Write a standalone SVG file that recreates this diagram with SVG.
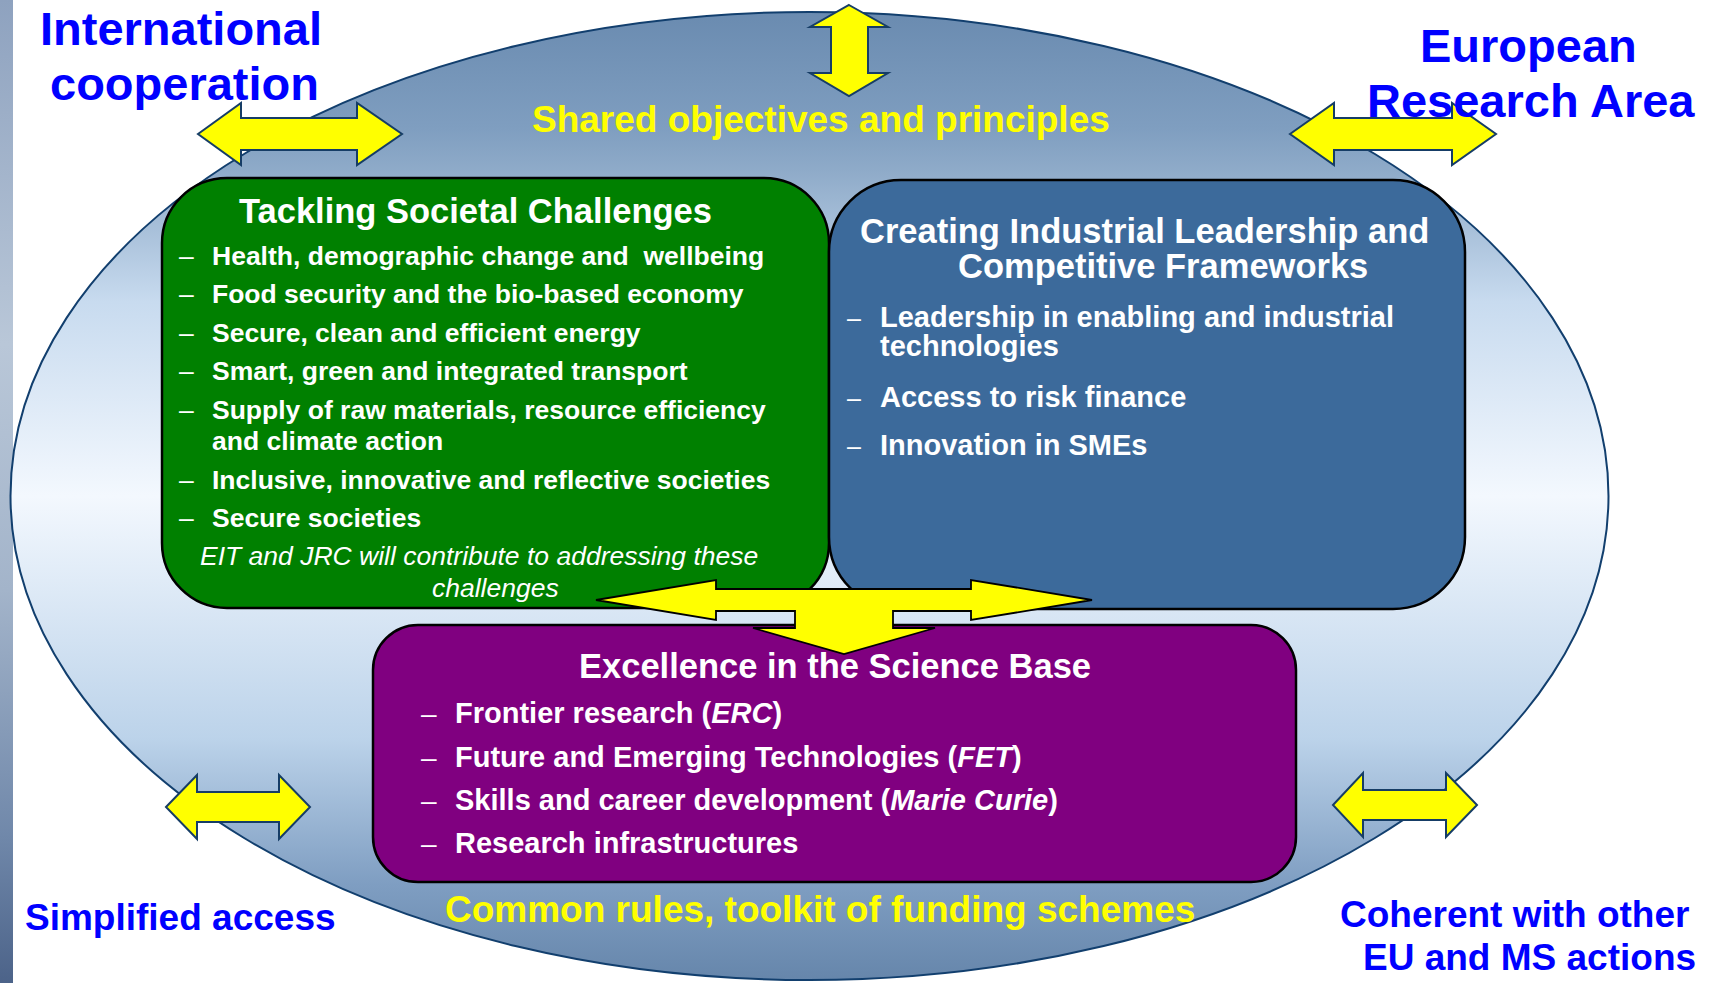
<svg xmlns="http://www.w3.org/2000/svg" width="1714" height="983" viewBox="0 0 1714 983">
<defs>
<linearGradient id="ellG" gradientUnits="userSpaceOnUse" x1="0" y1="12" x2="0" y2="980">
<stop offset="0" stop-color="#6a8bb0"/>
<stop offset="0.12" stop-color="#7f9ec0"/>
<stop offset="0.165" stop-color="#8fabc9"/>
<stop offset="0.30" stop-color="#c8dbef"/>
<stop offset="0.5" stop-color="#f3f8fe"/>
<stop offset="0.75" stop-color="#bcd3ea"/>
<stop offset="0.90" stop-color="#7f9ec2"/>
<stop offset="1" stop-color="#6686ab"/>
</linearGradient>
<linearGradient id="stripG" x1="0" y1="0" x2="0" y2="1">
<stop offset="0" stop-color="#8ea2bf"/>
<stop offset="0.35" stop-color="#b9c7d8"/>
<stop offset="0.6" stop-color="#a3b4ca"/>
<stop offset="0.85" stop-color="#7088aa"/>
<stop offset="1" stop-color="#4c6389"/>
</linearGradient>
</defs>
<style>
.lbl{font-family:"Liberation Sans",Arial,sans-serif;font-weight:bold;fill:#0000ff;font-size:47px}
.lbl2{font-family:"Liberation Sans",Arial,sans-serif;font-weight:bold;fill:#0000ff;font-size:37px}
.yel{font-family:"Liberation Sans",Arial,sans-serif;font-weight:bold;fill:#ffff00;font-size:37px}
.ttl{font-family:"Liberation Sans",Arial,sans-serif;font-weight:bold;fill:#ffffff;font-size:34.5px}
.itm{font-family:"Liberation Sans",Arial,sans-serif;font-weight:bold;fill:#ffffff;font-size:26.5px}
.itm2{font-family:"Liberation Sans",Arial,sans-serif;font-weight:bold;fill:#ffffff;font-size:29px}
.ital{font-family:"Liberation Sans",Arial,sans-serif;font-style:italic;fill:#ffffff;font-size:26.5px}
.dash{font-family:"Liberation Sans",Arial,sans-serif;fill:#ffffff}
.box{stroke:#000000;stroke-width:2.5}
.arr{fill:#ffff00;stroke:#163d66;stroke-width:2;stroke-linejoin:miter}
.arrc{fill:#ffff00;stroke:#000000;stroke-width:1.8;stroke-linejoin:miter}
</style>
<rect x="0" y="0" width="1714" height="983" fill="#ffffff"/>
<rect x="0" y="0" width="13" height="983" fill="url(#stripG)"/>
<g id="frame">
<ellipse cx="809.5" cy="496" rx="799" ry="484" fill="url(#ellG)" stroke="#123f6e" stroke-width="2"/>
<text class="yel" x="532" y="132">Shared objectives and principles</text>
<text class="yel" x="445" y="922">Common rules, toolkit of funding schemes</text>
</g>
<g id="connectors">
<polygon class="arr" points="849,5 888,27 868,27 868,73 888,73 849,96 810,73 831,73 831,27 810,27"/>
<polygon class="arr" points="198,134 241,103 241,118 357,118 357,103 402,134 357,165 357,150 241,150 241,165"/>
<polygon class="arr" points="1290,134 1334,103 1334,118 1452,118 1452,103 1496,134 1452,165 1452,150 1334,150 1334,165"/>
<polygon class="arr" points="166,807 197,775 197,792 279,792 279,775 310,807 279,839 279,822 197,822 197,839"/>
<polygon class="arr" points="1333,805 1363,773 1363,790 1446,790 1446,773 1477,805 1446,837 1446,820 1363,820 1363,837"/>
</g>
<g id="societal">
<rect class="box" x="162" y="178" width="667" height="430" rx="65" ry="65" fill="#008000"/>
<text class="ttl" x="239" y="223">Tackling Societal Challenges</text>
<text class="dash" font-size="26.5" x="179" y="265">–</text>
<text class="itm" x="212" y="265" xml:space="preserve">Health, demographic change and  wellbeing</text>
<text class="dash" font-size="26.5" x="179" y="303">–</text>
<text class="itm" x="212" y="303">Food security and the bio-based economy</text>
<text class="dash" font-size="26.5" x="179" y="342">–</text>
<text class="itm" x="212" y="342">Secure, clean and efficient energy</text>
<text class="dash" font-size="26.5" x="179" y="380">–</text>
<text class="itm" x="212" y="380">Smart, green and integrated transport</text>
<text class="dash" font-size="26.5" x="179" y="419">–</text>
<text class="itm" x="212" y="419">Supply of raw materials, resource efficiency</text>
<text class="itm" x="212" y="450">and climate action</text>
<text class="dash" font-size="26.5" x="179" y="489">–</text>
<text class="itm" x="212" y="489">Inclusive, innovative and reflective societies</text>
<text class="dash" font-size="26.5" x="179" y="527">–</text>
<text class="itm" x="212" y="527">Secure societies</text>
<text class="ital" x="200" y="565">EIT and JRC will contribute to addressing these</text>
<text class="ital" x="432" y="597">challenges</text>
</g>
<g id="industrial">
<rect class="box" x="829" y="180" width="636" height="429" rx="72" ry="72" fill="#3c6a9b"/>
<text class="ttl" x="860" y="243">Creating Industrial Leadership and</text>
<text class="ttl" x="958" y="278">Competitive Frameworks</text>
<text class="dash" font-size="25" x="847" y="327">–</text>
<text class="itm2" x="880" y="327">Leadership in enabling and industrial</text>
<text class="itm2" x="880" y="356">technologies</text>
<text class="dash" font-size="25" x="847" y="407">–</text>
<text class="itm2" x="880" y="407">Access to risk finance</text>
<text class="dash" font-size="25" x="847" y="455">–</text>
<text class="itm2" x="880" y="455">Innovation in SMEs</text>
</g>
<g id="excellence">
<rect class="box" x="373" y="625" width="923" height="257" rx="45" ry="45" fill="#800080"/>
<text class="ttl" x="579" y="678">Excellence in the Science Base</text>
<text class="dash" font-size="28" x="421" y="723">–</text>
<text class="itm2" x="455" y="723">Frontier research (<tspan font-style="italic">ERC</tspan>)</text>
<text class="dash" font-size="28" x="421" y="767">–</text>
<text class="itm2" x="455" y="767">Future and Emerging Technologies (<tspan font-style="italic">FET</tspan>)</text>
<text class="dash" font-size="28" x="421" y="810">–</text>
<text class="itm2" x="455" y="810">Skills and career development (<tspan font-style="italic">Marie Curie</tspan>)</text>
<text class="dash" font-size="28" x="421" y="853">–</text>
<text class="itm2" x="455" y="853">Research infrastructures</text>
</g>
<g id="central-arrow">
<polygon class="arrc" points="596,600 716,580 716,589 971,589 971,580 1092,600 971,620 971,611 893,611 893,628 935,628 844,654 753,628 795,628 795,611 716,611 716,620"/>
</g>
<g id="intl">
<text class="lbl" x="40" y="45">International</text>
<text class="lbl" x="50" y="100">cooperation</text>
</g>
<g id="era">
<text class="lbl" x="1420" y="62">European</text>
<text class="lbl" x="1367" y="117">Research Area</text>
</g>
<g id="simplified">
<text class="lbl2" x="25" y="930">Simplified access</text>
</g>
<g id="coherent">
<text class="lbl2" x="1340" y="927">Coherent with other</text>
<text class="lbl2" x="1363" y="970">EU and MS actions</text>
</g>
</svg>
